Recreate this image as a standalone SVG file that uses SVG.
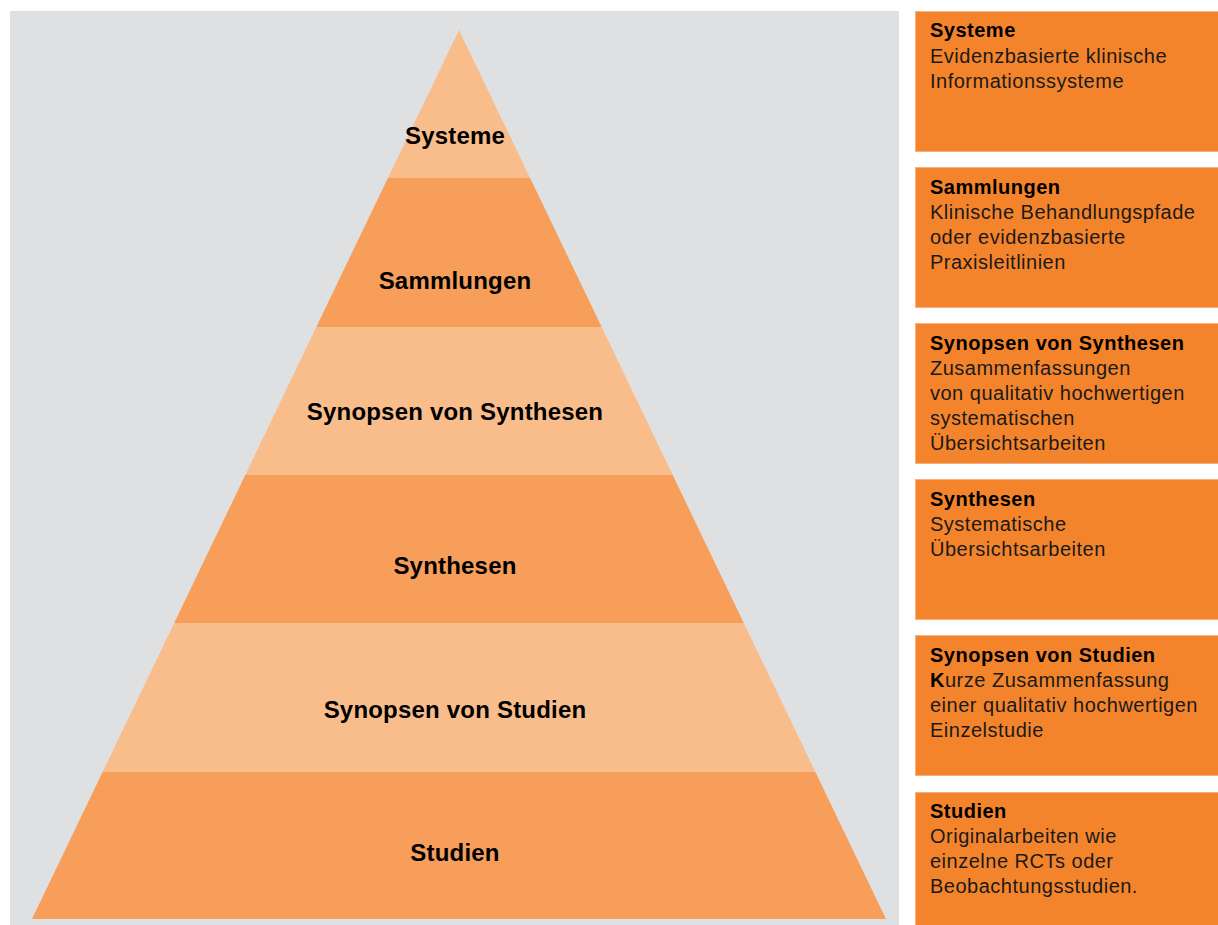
<svg xmlns="http://www.w3.org/2000/svg" width="1218" height="925" viewBox="0 0 1218 925">
<style>
.light{fill:#F9BD8B}
.dark{fill:#F79E5A}
.lbl{font-family:"Liberation Sans",Arial,sans-serif;font-weight:bold;font-size:24px;letter-spacing:0.2px;fill:#000;text-anchor:middle}
.box{fill:#F4842B;stroke:#F9B07A;stroke-width:1}
.t{font-family:"Liberation Sans",Arial,sans-serif;font-size:20px;letter-spacing:0.5px;fill:#1a1a1a}
.tb{font-weight:bold;font-size:20px;letter-spacing:0.5px;fill:#000}
</style>
<rect x="0" y="0" width="1218" height="925" fill="#ffffff"/>
<rect x="10" y="11" width="889" height="914" fill="#DFE0E2"/>
<g id="pyramid">
<g id="level-systeme"><polygon class="light" points="459,30 530.1,178 387.9,178"/><text class="lbl" x="455" y="144">Systeme</text></g>
<g id="level-sammlungen"><polygon class="dark" points="387.9,178 530.1,178 601.7,327 316.3,327"/><text class="lbl" x="455" y="289">Sammlungen</text></g>
<g id="level-synopsen-synthesen"><polygon class="light" points="316.3,327 601.7,327 672.7,475 245.3,475"/><text class="lbl" x="455" y="420">Synopsen von Synthesen</text></g>
<g id="level-synthesen"><polygon class="dark" points="245.3,475 672.7,475 743.8,623 174.2,623"/><text class="lbl" x="455" y="574">Synthesen</text></g>
<g id="level-synopsen-studien"><polygon class="light" points="174.2,623 743.8,623 815.4,772 102.6,772"/><text class="lbl" x="455" y="718">Synopsen von Studien</text></g>
<g id="level-studien"><polygon class="dark" points="102.6,772 815.4,772 886,919 32,919"/><text class="lbl" x="455" y="861">Studien</text></g>
</g>
<g id="connectors"></g>
<g id="box-systeme"><rect class="box" x="915.5" y="11.5" width="310" height="140"/>
<text class="t" x="930" y="37"><tspan class="tb">Systeme</tspan><tspan x="930" dy="26">Evidenzbasierte klinische</tspan><tspan x="930" dy="25">Informationssysteme</tspan></text></g>
<g id="box-sammlungen"><rect class="box" x="915.5" y="167.5" width="310" height="140"/>
<text class="t" x="930" y="194"><tspan class="tb">Sammlungen</tspan><tspan x="930" dy="25">Klinische Behandlungspfade</tspan><tspan x="930" dy="25">oder evidenzbasierte</tspan><tspan x="930" dy="25">Praxisleitlinien</tspan></text></g>
<g id="box-synopsen-synthesen"><rect class="box" x="915.5" y="323.5" width="310" height="140"/>
<text class="t" x="930" y="350"><tspan class="tb">Synopsen von Synthesen</tspan><tspan x="930" dy="25">Zusammenfassungen</tspan><tspan x="930" dy="25">von qualitativ hochwertigen</tspan><tspan x="930" dy="25">systematischen</tspan><tspan x="930" dy="25">Übersichtsarbeiten</tspan></text></g>
<g id="box-synthesen"><rect class="box" x="915.5" y="479.5" width="310" height="140"/>
<text class="t" x="930" y="506"><tspan class="tb">Synthesen</tspan><tspan x="930" dy="25">Systematische</tspan><tspan x="930" dy="25">Übersichtsarbeiten</tspan></text></g>
<g id="box-synopsen-studien"><rect class="box" x="915.5" y="635.5" width="310" height="140"/>
<text class="t" x="930" y="662"><tspan class="tb">Synopsen von Studien</tspan><tspan x="930" dy="25"><tspan class="tb">K</tspan>urze Zusammenfassung</tspan><tspan x="930" dy="25">einer qualitativ hochwertigen</tspan><tspan x="930" dy="25">Einzelstudie</tspan></text></g>
<g id="box-studien"><rect class="box" x="915.5" y="792.5" width="310" height="140"/>
<text class="t" x="930" y="818"><tspan class="tb">Studien</tspan><tspan x="930" dy="25">Originalarbeiten wie</tspan><tspan x="930" dy="25">einzelne RCTs oder</tspan><tspan x="930" dy="25">Beobachtungsstudien.</tspan></text></g>
</svg>
